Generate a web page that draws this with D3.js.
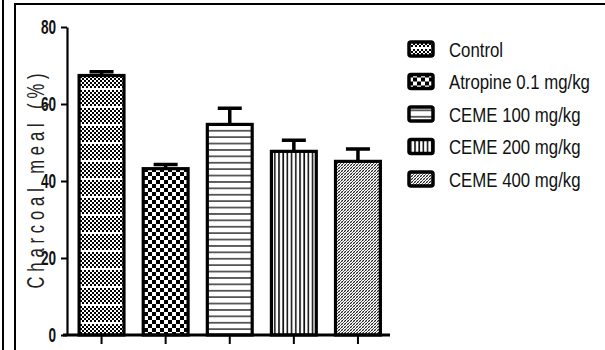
<!DOCTYPE html>
<html><head><meta http-equiv="Content-Type" content="text/html; charset=utf-8">
    <script src="https://d3js.org/d3.v7.min.js"></script>
    <style>
        body { margin: 0; background: #fff; }
        svg { display: block; }
    </style>
    </head>

    <body>

        <div class="chart-div">
        </div>

        <script type="text/javascript">

            // ------------------ DATA -----------------------------------

            var groups = ["Control", "Atropine 0.1 mg/kg", "CEME 100 mg/kg", "CEME 200 mg/kg", "CEME 400 mg/kg"];
            var means = [67.4, 43.2, 54.7, 47.7, 45.1];
            var sems = [1.0, 1.1, 4.2, 2.9, 3.2];
            var yTicks = [0, 20, 40, 60, 80];
            var patternIds = ["p-control", "p-atropine", "p-ceme100", "p-ceme200", "p-ceme400"];

            var width = 605;
            var height = 350;
            var font = "'Liberation Sans Narrow', 'Liberation Sans', Arial, sans-serif";

            var svg = d3.select("div.chart-div")
            .append("svg")
            .attr("width", width)
            .attr("height", height)

            // ------------------ PATTERNS -----------------------------------

            var defs = svg.append("defs");

            var pc = defs.append("pattern").attr("id", "p-control")
                .attr("patternUnits", "userSpaceOnUse").attr("width", 4).attr("height", 18);
            pc.append("rect").attr("width", 4).attr("height", 18).attr("fill", "#fff");
            for (var r = 0; r < 16; r += 2) {
                pc.append("rect").attr("x", (r % 4 == 0) ? 0 : 2).attr("y", r).attr("width", 2).attr("height", 2).attr("fill", "#000");
            }

            var pa = defs.append("pattern").attr("id", "p-atropine")
                .attr("patternUnits", "userSpaceOnUse").attr("width", 8).attr("height", 8);
            pa.append("rect").attr("width", 8).attr("height", 8).attr("fill", "#fff");
            pa.append("rect").attr("x", 0).attr("y", 0).attr("width", 4).attr("height", 4).attr("fill", "#000");
            pa.append("rect").attr("x", 4).attr("y", 4).attr("width", 4).attr("height", 4).attr("fill", "#000");

            var ph = defs.append("pattern").attr("id", "p-ceme100")
                .attr("patternUnits", "userSpaceOnUse").attr("width", 6).attr("height", 6.4);
            ph.append("rect").attr("width", 6).attr("height", 6.4).attr("fill", "#fff");
            ph.append("rect").attr("y", 2).attr("width", 6).attr("height", 1.5).attr("fill", "#333");

            var pv = defs.append("pattern").attr("id", "p-ceme200")
                .attr("patternUnits", "userSpaceOnUse").attr("width", 4.2).attr("height", 6);
            pv.append("rect").attr("width", 4.2).attr("height", 6).attr("fill", "#fff");
            pv.append("rect").attr("x", 1).attr("width", 1.6).attr("height", 6).attr("fill", "#111");

            // fine diagonal weave
            var pd = defs.append("pattern").attr("id", "p-ceme400")
                .attr("patternUnits", "userSpaceOnUse").attr("width", 3).attr("height", 3);
            pd.append("rect").attr("width", 3).attr("height", 3).attr("fill", "#fff");
            pd.append("path").attr("d", "M0,3L3,0M-1,1L1,-1M2,4L4,2").attr("stroke", "#222").attr("stroke-width", 1);
            pd.append("path").attr("d", "M0,0L3,3").attr("stroke", "#777").attr("stroke-width", 0.6);

            // ------------------ FRAME -----------------------------------

            svg.append("line").attr("x1", 3).attr("x2", 3).attr("y1", 0).attr("y2", height)
                .attr("stroke", "#000").attr("stroke-width", 2);
            svg.append("path").attr("d", "M15," + height + "V4H" + width)
                .attr("fill", "none").attr("stroke", "#000").attr("stroke-width", 2);

            // ------------------ SCALES -----------------------------------

            var x = d3.scaleBand()
            .domain(groups)
            .range([69.5, 390])
            .paddingInner(0.3)
            .paddingOuter(0.15);

            var y = d3.scaleLinear()
            .domain([0, 80])
            .range([335, 27]);

            // ------------------ BARS -----------------------------------

            var bars = svg.append("g");

            // error bars first so the bar outline sits on top
            bars.selectAll("path.err")
                .data(groups)
                .enter()
                .append("path")
                .attr("class", "err")
                .attr("d", function (d, i) {
                    var cx = x(d) + x.bandwidth() / 2;
                    return "M" + cx + "," + y(means[i]) + "V" + y(means[i] + sems[i]) +
                           "M" + (cx - 12) + "," + y(means[i] + sems[i]) + "H" + (cx + 12);
                })
                .attr("fill", "none")
                .attr("stroke", "#000")
                .attr("stroke-width", 3.5);

            bars.selectAll("rect")
                .data(groups)
                .enter()
                .append("rect")
                .attr("x", function (d) { return x(d); })
                .attr("y", function (d, i) { return y(means[i]); })
                .attr("width", x.bandwidth())
                .attr("height", function (d, i) { return y(0) - y(means[i]); })
                .attr("fill", function (d, i) { return "url(#" + patternIds[i] + ")"; })
                .attr("stroke", "#000")
                .attr("stroke-width", 3.2);

            // ------------------ AXES -----------------------------------

            var yAxis = svg.append("g")
                .attr("transform", "translate(67,0)")
                .call(d3.axisLeft(y).tickValues(yTicks).tickSize(6).tickSizeOuter(0));

            yAxis.select(".domain").attr("stroke-width", 2.2);
            yAxis.selectAll(".tick line").attr("stroke-width", 2);
            yAxis.selectAll(".tick text")
                .attr("x", -11 / 0.68)
                .attr("transform", "scale(0.68,1)")
                .style("font-family", font)
                .style("font-weight", "bold")
                .style("font-size", "20px")
                .attr("fill", "#111");

            var xAxis = svg.append("g")
                .attr("transform", "translate(0," + y(0) + ")")
                .call(d3.axisBottom(x).tickSize(9).tickSizeOuter(0).tickFormat(""));

            xAxis.select(".domain").attr("d", "M63,0H390").attr("stroke-width", 3);
            xAxis.selectAll(".tick line").attr("stroke-width", 2);

            // y label, narrow letters spread out along the axis
            svg.append("text")
                .attr("transform", "translate(44," + ((y(0) + y(80)) / 2) + ")rotate(-90)scale(0.72,1)")
                .attr("text-anchor", "middle")
                .attr("textLength", 215 / 0.72)
                .attr("lengthAdjust", "spacing")
                .style("font-family", font)
                .style("font-size", "23px")
                .attr("fill", "#222")
                .text("Charcoal meal (%)");

            // ------------------ LEGEND -----------------------------------

            var legend = svg.append("g")
                .selectAll("g")
                .data(groups)
                .enter()
                .append("g")
                .attr("transform", function (d, i) { return "translate(409," + (49 + i * 32.5) + ")"; });

            legend.append("rect")
                .attr("x", 0)
                .attr("y", -7)
                .attr("width", 24)
                .attr("height", 14)
                .attr("rx", 2)
                .attr("fill", function (d, i) { return "url(#" + patternIds[i] + ")"; })
                .attr("stroke", "#000")
                .attr("stroke-width", 3.5);

            legend.append("text")
                .attr("x", 40 / 0.8)
                .attr("y", 7.5)
                .attr("transform", "scale(0.8,1)")
                .style("font-family", font)
                .style("font-size", "21px")
                .attr("fill", "#111")
                .text(function (d) { return d; });

        </script>

    </body></html>
